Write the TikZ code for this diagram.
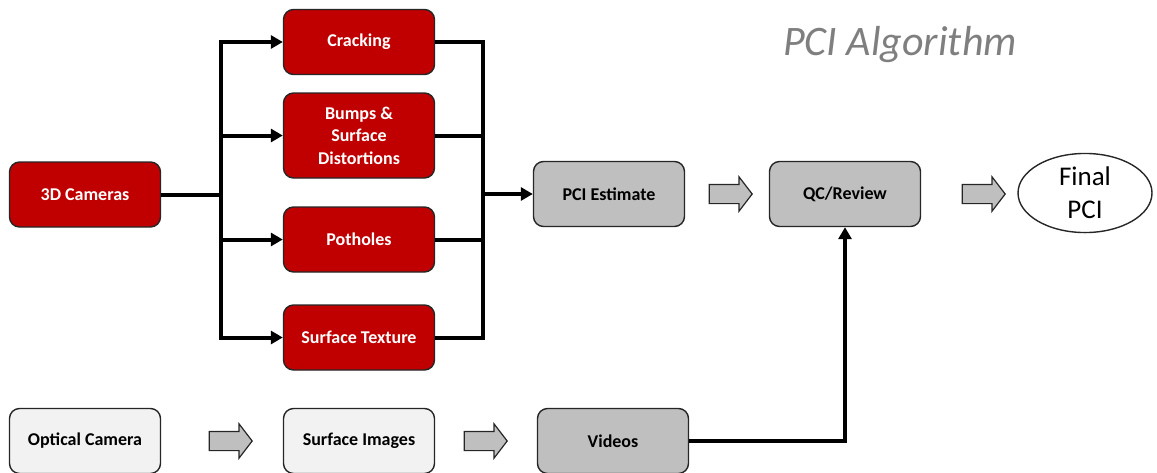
\documentclass[tikz,border=0pt]{standalone}
\usepackage{fontspec}
\setmainfont{Carlito}
\usetikzlibrary{arrows.meta,shapes.geometric,shapes.arrows}

\definecolor{boxred}{HTML}{C00000}
\definecolor{boxgray}{HTML}{BFBFBF}
\definecolor{boxlight}{HTML}{F2F2F2}
\definecolor{titlegray}{HTML}{7F7F7F}

\tikzset{
	box/.style={draw=black!85, line width=0.7pt, rounded corners=5pt, align=center,
		minimum width=75.5pt, minimum height=32.5pt, font=\fontsize{9}{11.2}\selectfont\bfseries},
	redbox/.style={box, fill=boxred, text=white},
	graybox/.style={box, fill=boxgray},
	lightbox/.style={box, fill=boxlight},
	fatarrow/.style={single arrow, draw=black!85, fill=boxgray, line width=0.6pt,
		minimum height=21.5pt, minimum width=17pt, inner sep=4.5pt,
		single arrow head extend=3.75pt, single arrow tip angle=105},
	conn/.style={line width=2pt, -{Triangle[length=6pt,width=6.5pt]}},
	bus/.style={line width=2pt}
}

\begin{document}
\begin{tikzpicture}[x=0.5pt, y=-0.5pt]
	\useasboundingbox (0,0) rectangle (1157,472);

	% upper branch
	\node[redbox] (cam) at (85,194.5) {3D Cameras};
	\node[redbox] (crack) at (359,42) {Cracking};
	\node[redbox, minimum height=42.5pt] (bump) at (359,135.5) {Bumps \&\\Surface\\Distortions};
	\node[redbox] (pot) at (359,239.5) {Potholes};
	\node[redbox] (tex) at (359,337.5) {Surface Texture};
	\node[graybox] (pci) at (609,194) {PCI Estimate};
	\node[graybox] (qc) at (845,194) {QC/Review};
	\node[draw=black!85, line width=0.7pt, ellipse, minimum width=67pt, minimum height=39pt,
		inner sep=1pt, align=center, font=\fontsize{13.5}{16.5}\selectfont] (final) at (1085,193) {Final\\PCI};
	\node[font=\fontsize{21}{24}\selectfont\itshape, text=titlegray] (title) at (900,45) {PCI Algorithm};

	% lower branch
	\node[lightbox] (opt) at (85,441) {Optical Camera};
	\node[lightbox] (simg) at (359,441) {Surface Images};
	\node[graybox] (vid) at (613,441) {Videos};

	% block arrows
	\node[fatarrow] (a1) at (727,194) {};
	\node[fatarrow] (a2) at (980,194) {};
	\node[fatarrow] (a3) at (227,441) {};
	\node[fatarrow] (a4) at (482,441) {};

	\coordinate (split) at (221,194.5);
	\coordinate (join) at (483,194);

	\draw[bus] (cam) -- (split);
	\foreach \n in {crack,bump,pot,tex}
		\draw[conn] (split) |- (\n);
	\foreach \n in {crack,bump,pot,tex}
		\draw[bus] (\n) -| (join);
	\draw[conn] (join) -- (pci);
	\draw[conn] (vid) -| (qc);
\end{tikzpicture}
\end{document}
